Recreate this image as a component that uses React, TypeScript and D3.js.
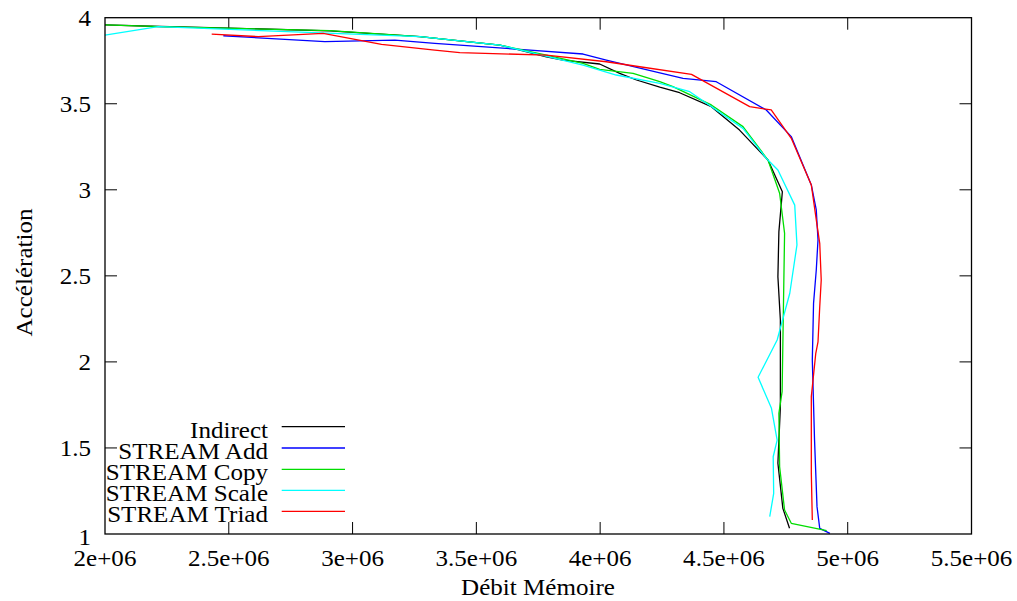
import React from "react";
import * as d3 from "d3";

const xTicks = [2e6, 2.5e6, 3e6, 3.5e6, 4e6, 4.5e6, 5e6, 5.5e6];
const yTicks = [1, 1.5, 2, 2.5, 3, 3.5, 4];
const xTickLabels = ["2e+06", "2.5e+06", "3e+06", "3.5e+06", "4e+06", "4.5e+06", "5e+06", "5.5e+06"];
const yTickLabels = ["1", "1.5", "2", "2.5", "3", "3.5", "4"];

const seriesNames = ["Indirect", "STREAM Add", "STREAM Copy", "STREAM Scale", "STREAM Triad"];
const seriesColors = ["#000000", "#0000ff", "#00dd00", "#00ffff", "#ff0000"];

const indirect: [number, number][] = [
  [2.0e6, 3.958], [2.222e6, 3.949], [2.505e6, 3.94], [2.908e6, 3.923], [3.272e6, 3.89],
  [3.595e6, 3.841], [3.783e6, 3.773], [3.85e6, 3.754], [3.998e6, 3.731], [4.079e6, 3.677],
  [4.147e6, 3.638], [4.241e6, 3.596], [4.321e6, 3.564], [4.449e6, 3.483], [4.563e6, 3.347],
  [4.678e6, 3.173], [4.736e6, 2.989], [4.722e6, 2.757], [4.718e6, 2.495], [4.728e6, 2.243],
  [4.728e6, 1.74], [4.718e6, 1.411], [4.738e6, 1.149], [4.765e6, 1.033],
];
const streamAdd: [number, number][] = [
  [2.478e6, 3.895], [2.888e6, 3.861], [3.171e6, 3.87], [3.332e6, 3.851], [3.675e6, 3.816],
  [3.931e6, 3.789], [4.025e6, 3.754], [4.241e6, 3.68], [4.335e6, 3.648], [4.469e6, 3.628],
  [4.671e6, 3.464], [4.772e6, 3.309], [4.853e6, 3.028], [4.873e6, 2.883], [4.88e6, 2.709],
  [4.873e6, 2.534], [4.862e6, 2.34], [4.857e6, 2.011], [4.866e6, 1.547], [4.876e6, 1.159],
  [4.887e6, 1.033], [4.928e6, 1.004],
];
const streamCopy: [number, number][] = [
  [2.0e6, 3.958], [2.229e6, 3.948], [2.908e6, 3.925], [3.272e6, 3.89], [3.595e6, 3.841],
  [3.783e6, 3.783], [3.931e6, 3.735], [3.998e6, 3.7], [4.133e6, 3.677], [4.241e6, 3.628],
  [4.294e6, 3.599], [4.449e6, 3.493], [4.577e6, 3.367], [4.678e6, 3.173], [4.725e6, 2.98],
  [4.745e6, 2.747], [4.735e6, 1.827], [4.722e6, 1.701], [4.725e6, 1.391], [4.745e6, 1.139],
  [4.772e6, 1.062], [4.915e6, 1.02],
];
const streamScale: [number, number][] = [
  [2.0e6, 3.899], [2.215e6, 3.948], [3.272e6, 3.89], [3.595e6, 3.841], [3.931e6, 3.725],
  [4.065e6, 3.667], [4.241e6, 3.619], [4.362e6, 3.57], [4.577e6, 3.357], [4.671e6, 3.183],
  [4.718e6, 3.115], [4.786e6, 2.911], [4.795e6, 2.68], [4.766e6, 2.399], [4.715e6, 2.127],
  [4.638e6, 1.911], [4.692e6, 1.73], [4.715e6, 1.546], [4.699e6, 1.449], [4.701e6, 1.236],
  [4.685e6, 1.101],
];
const streamTriad: [number, number][] = [
  [2.431e6, 3.905], [2.619e6, 3.89], [2.881e6, 3.909], [3.117e6, 3.845], [3.332e6, 3.812],
  [3.433e6, 3.797], [3.783e6, 3.783], [4.025e6, 3.744], [4.16e6, 3.715], [4.369e6, 3.671],
  [4.604e6, 3.483], [4.691e6, 3.464], [4.772e6, 3.299], [4.853e6, 3.028], [4.873e6, 2.825],
  [4.887e6, 2.689], [4.893e6, 2.476], [4.887e6, 2.321], [4.88e6, 2.117], [4.871e6, 2.05],
  [4.853e6, 1.798], [4.853e6, 1.353], [4.857e6, 1.081],
];

const allSeries = [indirect, streamAdd, streamCopy, streamScale, streamTriad];

const W = 1017;
const H = 601;
const left = 105;
const right = 971.5;
const top = 17.7;
const bottom = 534;
const FONT = "Liberation Serif";
const FS = 23;
const SX = 1.09;

function T(props: { x: number; y: number; anchor?: string; rotate?: number; children: React.ReactNode }) {
  const { x, y, anchor = "start", rotate = 0, children } = props;
  return (
    <g transform={`translate(${x},${y}) rotate(${rotate}) scale(${SX},1)`}>
      <text x={0} y={0} textAnchor={anchor} style={{ fontFamily: FONT, fontSize: FS + "px" }} fill="#000">
        {children}
      </text>
    </g>
  );
}

export default function App() {
  const x = d3.scaleLinear().domain([2e6, 5.5e6]).range([left, right]);
  const y = d3.scaleLinear().domain([1, 4]).range([bottom, top]);
  const line = d3
    .line<[number, number]>()
    .x((d) => x(d[0]))
    .y((d) => y(d[1]));
  const tl = 12;
  const legendY = [426.7, 448, 469.3, 490.3, 511.3];

  return (
    <svg
      width={W}
      height={H}
      style={{ position: "absolute", left: 0, top: 0, background: "#fff" }}
    >
      <rect x={0} y={0} width={W} height={H} fill="#fff" />
      <g stroke="#000" strokeWidth={1}>
        {xTicks.map((t, i) =>
          i > 0 && i < xTicks.length - 1 ? (
            <g key={"xt" + i}>
              <line x1={x(t)} x2={x(t)} y1={bottom} y2={bottom - tl} />
              <line x1={x(t)} x2={x(t)} y1={top} y2={top + tl} />
            </g>
          ) : null
        )}
        {yTicks.map((t, i) =>
          i > 0 && i < yTicks.length - 1 ? (
            <g key={"yt" + i}>
              <line x1={left} x2={left + tl} y1={y(t)} y2={y(t)} />
              <line x1={right} x2={right - tl} y1={y(t)} y2={y(t)} />
            </g>
          ) : null
        )}
      </g>
      {xTicks.map((t, i) => (
        <T key={"xl" + i} x={x(t)} y={565.5} anchor="middle">
          {xTickLabels[i]}
        </T>
      ))}
      {yTicks.map((t, i) => (
        <T key={"yl" + i} x={91} y={y(t) + 8 + (i === 0 ? 3 : 0)} anchor="end">
          {yTickLabels[i]}
        </T>
      ))}
      <T x={538} y={595} anchor="middle">
        Débit Mémoire
      </T>
      <T x={32} y={272.5} anchor="middle" rotate={-90}>
        Accélération
      </T>
      {allSeries.map((s, i) => (
        <path key={"s" + i} d={line(s) || ""} fill="none" stroke={seriesColors[i]} strokeWidth={1.3} strokeLinejoin="round" />
      ))}
      {seriesNames.map((n, i) => (
        <g key={"lg" + i}>
          <T x={268} y={legendY[i] + 11} anchor="end">
            {n}
          </T>
          <line x1={281.7} x2={345} y1={legendY[i]} y2={legendY[i]} stroke={seriesColors[i]} strokeWidth={1.3} />
        </g>
      ))}
      <rect x={left} y={top} width={right - left} height={bottom - top} fill="none" stroke="#000" strokeWidth={1.3} />
    </svg>
  );
}
